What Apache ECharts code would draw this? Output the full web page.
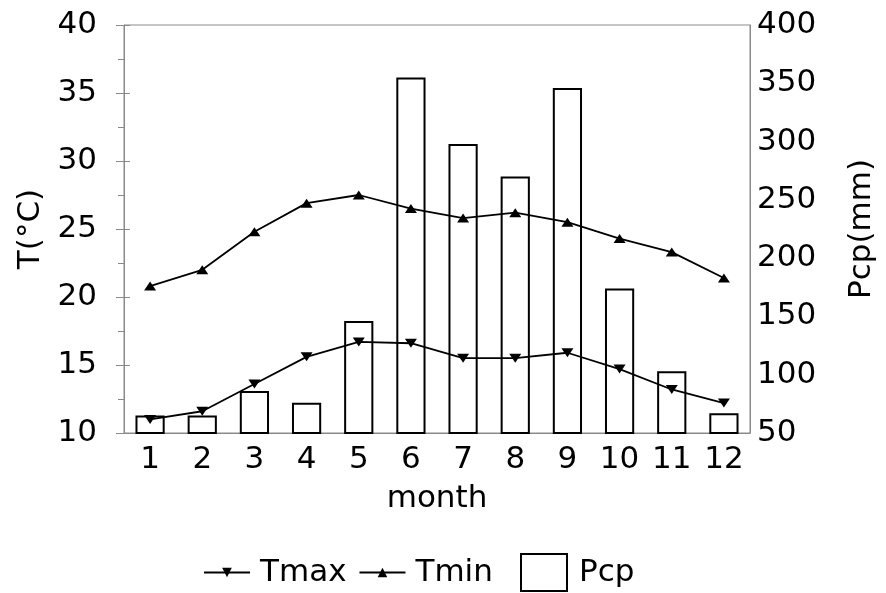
<!DOCTYPE html>
<html>
<head>
<meta charset="utf-8">
<script src="https://cdn.jsdelivr.net/npm/echarts@6/dist/echarts.min.js"></script>
<style>
  html, body { margin: 0; padding: 0; background: #fff; }
  #chart { width: 886px; height: 593px; }
</style>
</head>
<body>
<div id="chart"></div>
<script>
// data
const months = ['1', '2', '3', '4', '5', '6', '7', '8', '9', '10', '11', '12'];
const tmax = [11.0, 11.6, 13.6, 15.6, 16.7, 16.6, 15.5, 15.5, 15.9, 14.7, 13.2, 12.2];
const tmin = [20.8, 22.0, 24.8, 26.9, 27.5, 26.5, 25.8, 26.2, 25.5, 24.3, 23.3, 21.4];
const pcp = [65, 65, 86, 76, 146, 355, 298, 270, 346, 174, 103, 67];

const font = 'DejaVu Sans';
const fs = 31;
const grey = '#8a8a8a';
const downTri = 'path://M0,0 L10,0 L5,8 Z';
const upTri = 'path://M5,0 L10,8 L0,8 Z';

let chart = echarts.init(document.getElementById('chart'));
chart.setOption({
    animation: false,
    textStyle: { fontFamily: font },
    grid: {
        left: 124, right: 136, top: 25, bottom: 160,
        show: true, borderColor: grey, borderWidth: 1
    },
    legend: [{
        left: 203, top: 557, padding: 0,
        itemWidth: 46, itemHeight: 12, itemGap: 12,
        textStyle: { fontSize: fs, color: '#000', fontFamily: font, padding: [0, 0, 0, 5] },
        data: ['Tmax', 'Tmin']
    }, {
        left: 520, top: 553, padding: 0,
        itemWidth: 46, itemHeight: 37,
        icon: 'rect',
        itemStyle: { color: '#fff', borderColor: '#000', borderWidth: 2 },
        textStyle: { fontSize: fs, color: '#000', fontFamily: font, padding: [0, 0, 0, 7] },
        data: ['Pcp']
    }],
    xAxis: [{
        type: 'category',
        data: months,
        name: 'month',
        nameLocation: 'middle',
        nameGap: 50,
        nameTextStyle: { fontSize: fs, color: '#000', fontFamily: font },
        axisLine: { lineStyle: { color: grey, width: 1 } },
        axisTick: { alignWithLabel: true, length: 9, lineStyle: { color: grey } },
        axisLabel: { fontSize: fs, color: '#000', margin: 11, interval: 0 }
    }, {
        type: 'category',
        data: months,
        position: 'bottom',
        axisLine: { show: false },
        axisTick: { alignWithLabel: true, inside: true, length: 5, lineStyle: { color: grey } },
        axisLabel: { show: false }
    }],
    yAxis: [{
        type: 'value',
        min: 10, max: 40, interval: 5,
        name: 'T(°C)',
        nameLocation: 'middle',
        nameRotate: 90,
        nameGap: 72,
        nameTextStyle: { fontSize: fs, color: '#000', fontFamily: font },
        axisLine: { show: true, lineStyle: { color: grey, width: 1 } },
        axisTick: { show: true, length: 8, lineStyle: { color: grey } },
        minorTick: { show: true, splitNumber: 2, length: 6, lineStyle: { color: grey } },
        splitLine: { show: false },
        axisLabel: { fontSize: fs, color: '#000', margin: 27 }
    }, {
        type: 'value',
        min: 50, max: 400, interval: 50,
        position: 'right',
        name: 'Pcp(mm)',
        nameLocation: 'middle',
        nameRotate: 90,
        nameGap: 96,
        nameTextStyle: { fontSize: fs, color: '#000', fontFamily: font },
        axisLine: { show: true, lineStyle: { color: grey, width: 1 } },
        axisTick: { show: false },
        splitLine: { show: false },
        axisLabel: { fontSize: fs, color: '#000', margin: 7 }
    }, {
        type: 'value',
        min: 10, max: 40, interval: 5,
        position: 'left',
        axisLine: { show: false },
        axisTick: { show: true, inside: true, length: 6, lineStyle: { color: grey } },
        splitLine: { show: false },
        axisLabel: { show: false }
    }],
    series: [{
        name: 'Pcp',
        type: 'bar',
        yAxisIndex: 1,
        barWidth: '56%',
        itemStyle: { color: '#fff', borderColor: '#000', borderWidth: 2 },
        data: pcp
    }, {
        name: 'Tmax',
        type: 'line',
        symbol: downTri,
        symbolSize: [12, 9],
        lineStyle: { color: '#000', width: 1.8 },
        itemStyle: { color: '#000' },
        data: tmax
    }, {
        name: 'Tmin',
        type: 'line',
        symbol: upTri,
        symbolSize: [12, 9],
        lineStyle: { color: '#000', width: 1.8 },
        itemStyle: { color: '#000' },
        data: tmin
    }]
});
</script>
</body>
</html>
